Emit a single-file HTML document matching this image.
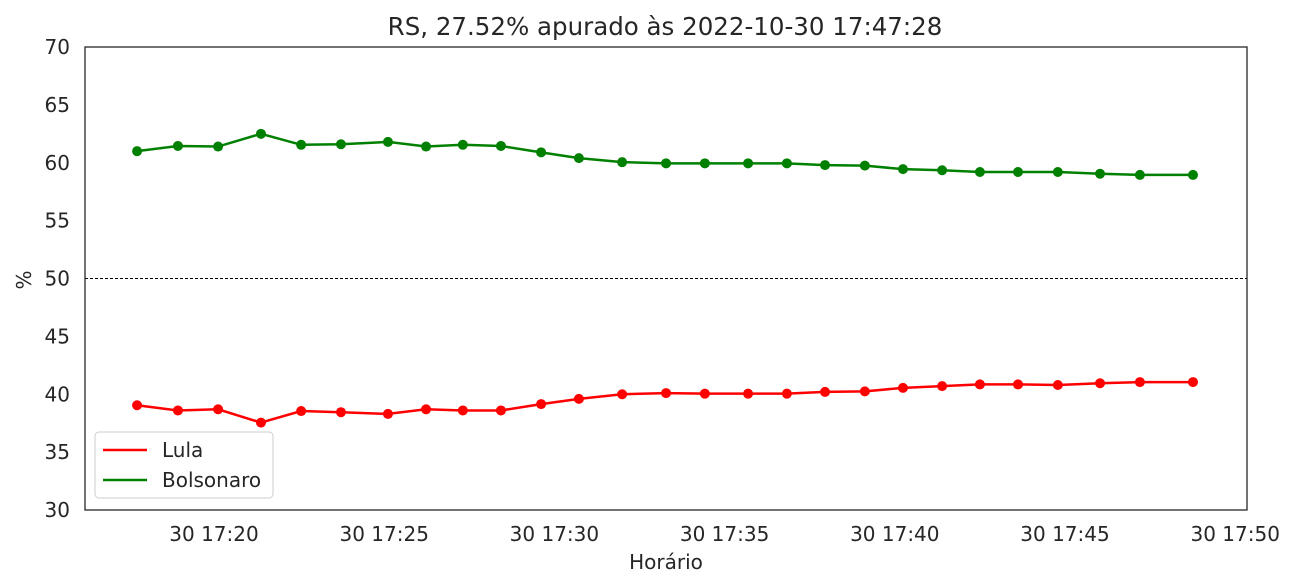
<!DOCTYPE html>
<html><head><meta charset="utf-8">
<style>
body{margin:0;background:#fff;}
svg{display:block;font-family:"DejaVu Sans","Liberation Sans",sans-serif;}
</style></head>
<body>
<svg id="chart" width="1296" height="587">
<rect x="0" y="0" width="1296" height="587" fill="#fff"/>
<text x="665" y="35" text-anchor="middle" font-size="24.5" fill="#262626">RS, 27.52% apurado às 2022-10-30 17:47:28</text>
<g id="axes"></g>
<g id="series"></g>
<rect x="85" y="47" width="1162" height="463" fill="none" stroke="#262626" stroke-width="1.3"/>
<text x="666" y="569" text-anchor="middle" font-size="20" fill="#262626">Horário</text>
<text transform="translate(31,280) rotate(-90)" text-anchor="middle" font-size="20" fill="#262626">%</text>
<g>
<rect x="95" y="432" width="178" height="66" rx="4" fill="#fff" stroke="#ccc" stroke-width="1"/>
<g>
<line x1="103" y1="450" x2="147" y2="450" stroke="red" stroke-width="2.5"/>
<text x="162" y="457" font-size="20" fill="#262626">Lula</text></g>
<g>
<line x1="103" y1="480" x2="147" y2="480" stroke="green" stroke-width="2.5"/>
<text x="162" y="487" font-size="20" fill="#262626">Bolsonaro</text></g>
</g>
</svg>
<script>
// minutes after 17:20
const times=[-2.26,-1.06,0.12,1.38,2.56,3.73,5.11,6.23,7.31,8.43,9.61,10.72,11.99,13.28,14.42,15.69,16.83,17.95,19.12,20.24,21.39,22.50,23.62,24.79,26.03,27.2,28.76];
const bolsonaro=[61.0,61.45,61.4,62.5,61.55,61.6,61.8,61.4,61.55,61.45,60.9,60.4,60.05,59.95,59.95,59.95,59.95,59.8,59.75,59.45,59.35,59.2,59.2,59.2,59.05,58.95,58.95];
const lula=[39.05,38.6,38.7,37.55,38.55,38.45,38.3,38.7,38.6,38.6,39.15,39.6,40.0,40.1,40.05,40.05,40.05,40.2,40.25,40.55,40.7,40.85,40.85,40.8,40.95,41.05,41.05];
const yTicks=[30,35,40,45,50,55,60,65,70];
const xTickMins=[0,5,10,15,20,25,30];
const xTickLabels=["30 17:20","30 17:25","30 17:30","30 17:35","30 17:40","30 17:45","30 17:50"];
const NS="http://www.w3.org/2000/svg";
const X=m=>214+m*34.04;
const Y=v=>510-(v-30)*463/40;
function mk(tag,attrs,parent){const e=document.createElementNS(NS,tag);for(const k in attrs)e.setAttribute(k,attrs[k]);parent.appendChild(e);return e;}
const axes=document.getElementById('axes'),ser=document.getElementById('series');
yTicks.forEach(v=>{const t=mk('text',{x:70,y:Y(v)+7,'text-anchor':'end','font-size':20,fill:'#262626'},axes);t.textContent=v;

});
xTickMins.forEach((m,i)=>{const t=mk('text',{x:X(m),y:541,'text-anchor':'middle','font-size':20,fill:'#262626'},axes);t.textContent=xTickLabels[i];

});
const ref=mk('line',{x1:85,x2:1247,y1:Y(50),y2:Y(50),stroke:'#000','stroke-width':0.9,'stroke-dasharray':'3,2'},axes);


function draw(vals,color,name){
  const pl=mk('polyline',{points:vals.map((v,i)=>X(times[i])+','+Y(v)).join(' '),fill:'none',stroke:color,'stroke-width':2.5},ser);
  
  
  vals.forEach((v,i)=>{const c=mk('circle',{cx:X(times[i]),cy:Y(v),r:5,fill:color},ser);
  
  });
}
draw(lula,'red','lula');
draw(bolsonaro,'green','bolsonaro');
</script>
</body></html>
